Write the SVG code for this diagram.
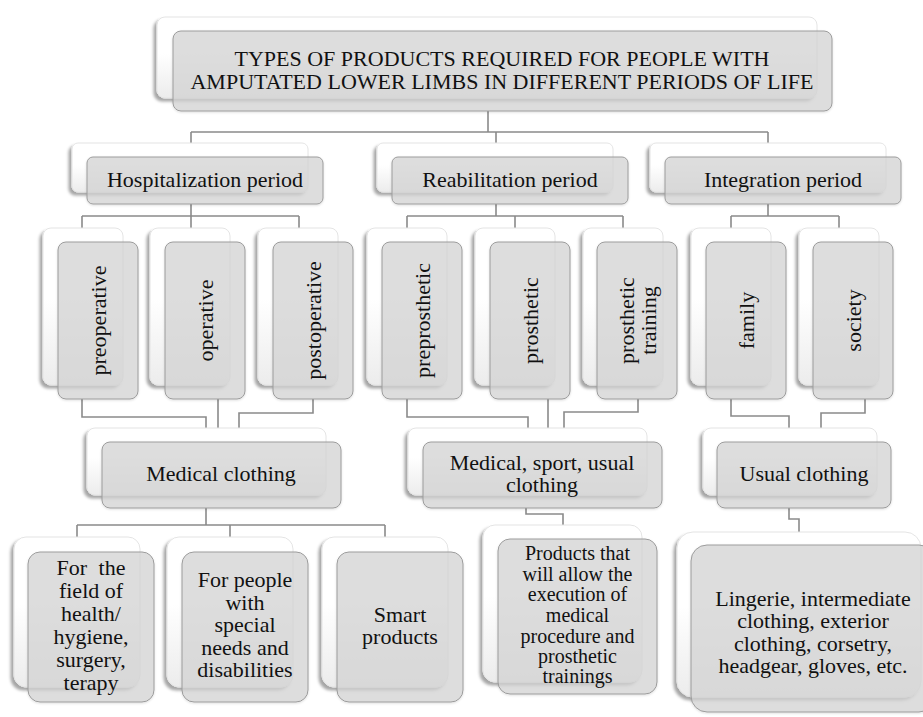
<svg xmlns="http://www.w3.org/2000/svg" width="923" height="717" viewBox="0 0 923 717">
<defs>
<linearGradient id="bg" x1="0" y1="0" x2="0" y2="1">
<stop offset="0" stop-color="#ffffff"/>
<stop offset="0.45" stop-color="#ffffff"/>
<stop offset="1" stop-color="#ececec"/>
</linearGradient>
<filter id="sh" x="-10%" y="-10%" width="120%" height="125%">
<feDropShadow dx="-3" dy="3" stdDeviation="1.6" flood-color="#000" flood-opacity="0.35"/>
</filter>
<filter id="sh2" x="-10%" y="-10%" width="120%" height="125%">
<feDropShadow dx="0" dy="1" stdDeviation="1" flood-color="#000" flood-opacity="0.15"/>
</filter>
</defs>
<style>
.back{fill:url(#bg);stroke:#e4e4e4;stroke-width:1;filter:url(#sh);}
.front{fill:#d6d6d6;fill-opacity:0.72;stroke:#9c9c9c;stroke-width:1;filter:url(#sh2);}
.t{font-family:"Liberation Serif","Times New Roman",serif;font-size:22px;fill:#111;text-anchor:middle;}
.s{font-size:20px;}
.conn path{fill:none;stroke:#8a8a8a;stroke-width:1.6;}
</style>
<rect width="923" height="717" fill="#ffffff"/>

<g class="conn" id="connectors">
<path d="M488 111V132M191 132H768M191 132V143M496 132V143M768 132V143"/>
<path d="M191 204V228M82 216H299M82 216V228M299 216V228"/>
<path d="M496 204V216M407 216H623M407 216V228M515 216V228M623 216V228"/>
<path d="M768 204V216M731 216H839M731 216V228M839 216V228"/>
<path d="M82 399V417H206V428"/>
<path d="M218 399V428"/>
<path d="M313 399V413H239V428"/>
<path d="M407 399V417H528V428"/>
<path d="M548 399V428"/>
<path d="M638 399V412H564V428"/>
<path d="M731 399V416H789V428"/>
<path d="M865 399V413H821V428"/>
<path d="M206 508V525M77 525H385M77 525V537M230 525V537M385 525V537"/>
<path d="M526 508V514H563V525"/>
<path d="M789 508V519H799V532"/>
</g>

<g id="title">
<rect class="back" x="157" y="17" width="660" height="81" rx="8"/>
<rect class="front" x="173" y="31" width="659" height="80" rx="8"/>
<text class="t" x="502" y="66">TYPES OF PRODUCTS REQUIRED FOR PEOPLE WITH</text>
<text class="t" x="502" y="89">AMPUTATED LOWER LIMBS IN DIFFERENT PERIODS OF LIFE</text>
</g>

<g id="hospitalization">
<rect class="back" x="72" y="143" width="236" height="49" rx="6"/>
<rect class="front" x="87" y="157" width="236" height="47" rx="6"/>
<text class="t" x="205" y="187">Hospitalization period</text>
</g>
<g id="reabilitation">
<rect class="back" x="377" y="143" width="236" height="49" rx="6"/>
<rect class="front" x="392" y="157" width="236" height="47" rx="6"/>
<text class="t" x="510" y="187">Reabilitation period</text>
</g>
<g id="integration">
<rect class="back" x="650" y="143" width="236" height="49" rx="6"/>
<rect class="front" x="665" y="157" width="236" height="47" rx="6"/>
<text class="t" x="783" y="187">Integration period</text>
</g>

<g id="preoperative">
<rect class="back" x="43" y="228" width="80" height="157" rx="8"/>
<rect class="front" x="58" y="242" width="80" height="157" rx="8"/>
<text class="t" transform="translate(98 320.5) rotate(-90)" x="0" y="8">preoperative</text>
</g>
<g id="operative">
<rect class="back" x="150" y="228" width="80" height="157" rx="8"/>
<rect class="front" x="165" y="242" width="80" height="157" rx="8"/>
<text class="t" transform="translate(205 320.5) rotate(-90)" x="0" y="8">operative</text>
</g>
<g id="postoperative">
<rect class="back" x="258" y="228" width="80" height="157" rx="8"/>
<rect class="front" x="273" y="242" width="80" height="157" rx="8"/>
<text class="t" transform="translate(313 320.5) rotate(-90)" x="0" y="8">postoperative</text>
</g>
<g id="preprosthetic">
<rect class="back" x="367" y="228" width="80" height="157" rx="8"/>
<rect class="front" x="382" y="242" width="80" height="157" rx="8"/>
<text class="t" transform="translate(422 320.5) rotate(-90)" x="0" y="8">preprosthetic</text>
</g>
<g id="prosthetic">
<rect class="back" x="475" y="228" width="80" height="157" rx="8"/>
<rect class="front" x="490" y="242" width="80" height="157" rx="8"/>
<text class="t" transform="translate(530 320.5) rotate(-90)" x="0" y="8">prosthetic</text>
</g>
<g id="prosthetic-training">
<rect class="back" x="583" y="228" width="80" height="157" rx="8"/>
<rect class="front" x="597" y="242" width="80" height="157" rx="8"/>
<text class="t" transform="translate(637 320.5) rotate(-90)" x="0" y="-3">prosthetic</text>
<text class="t" transform="translate(637 320.5) rotate(-90)" x="0" y="19">training</text>
</g>
<g id="family">
<rect class="back" x="691" y="228" width="80" height="157" rx="8"/>
<rect class="front" x="706" y="242" width="80" height="157" rx="8"/>
<text class="t" transform="translate(746 320.5) rotate(-90)" x="0" y="8">family</text>
</g>
<g id="society">
<rect class="back" x="799" y="228" width="80" height="157" rx="8"/>
<rect class="front" x="813" y="242" width="80" height="157" rx="8"/>
<text class="t" transform="translate(853 320.5) rotate(-90)" x="0" y="8">society</text>
</g>

<g id="medical-clothing">
<rect class="back" x="87" y="428" width="239" height="67" rx="8"/>
<rect class="front" x="102" y="442" width="239" height="66" rx="8"/>
<text class="t" x="221" y="481">Medical clothing</text>
</g>
<g id="medical-sport-usual">
<rect class="back" x="408" y="428" width="239" height="67" rx="8"/>
<rect class="front" x="423" y="442" width="239" height="66" rx="8"/>
<text class="t" x="542" y="470">Medical, sport, usual</text>
<text class="t" x="542" y="492">clothing</text>
</g>
<g id="usual-clothing">
<rect class="back" x="703" y="428" width="174" height="67" rx="8"/>
<rect class="front" x="717" y="442" width="174" height="66" rx="8"/>
<text class="t" x="804" y="481">Usual clothing</text>
</g>

<g id="health-hygiene">
<rect class="back" x="14" y="537" width="126" height="150" rx="12"/>
<rect class="front" x="28" y="552" width="126" height="150" rx="12"/>
<text class="t" x="91" y="575" word-spacing="6">For the</text>
<text class="t" x="91" y="598">field of</text>
<text class="t" x="91" y="621">health/</text>
<text class="t" x="91" y="644">hygiene,</text>
<text class="t" x="91" y="667">surgery,</text>
<text class="t" x="91" y="690">terapy</text>
</g>
<g id="special-needs">
<rect class="back" x="167" y="537" width="126" height="150" rx="12"/>
<rect class="front" x="182" y="552" width="126" height="150" rx="12"/>
<text class="t" x="245" y="587">For people</text>
<text class="t" x="245" y="609.5">with</text>
<text class="t" x="245" y="632">special</text>
<text class="t" x="245" y="655">needs and</text>
<text class="t" x="245" y="677">disabilities</text>
</g>
<g id="smart-products">
<rect class="back" x="322" y="537" width="126" height="150" rx="12"/>
<rect class="front" x="337" y="552" width="126" height="150" rx="12"/>
<text class="t" x="400" y="622">Smart</text>
<text class="t" x="400" y="644">products</text>
</g>
<g id="procedure-products">
<rect class="back" x="483" y="525" width="159" height="157" rx="12"/>
<rect class="front" x="498" y="539" width="159" height="155" rx="12"/>
<text class="t s" x="577.5" y="560">Products that</text>
<text class="t s" x="577.5" y="580.5">will allow the</text>
<text class="t s" x="577.5" y="601">execution of</text>
<text class="t s" x="577.5" y="622">medical</text>
<text class="t s" x="577.5" y="643">procedure and</text>
<text class="t s" x="577.5" y="663">prosthetic</text>
<text class="t s" x="577.5" y="683">trainings</text>
</g>
<g id="lingerie">
<rect class="back" x="677" y="532" width="244" height="165" rx="16"/>
<rect class="front" x="691" y="545" width="244" height="167" rx="16"/>
<text class="t" x="813" y="606">Lingerie, intermediate</text>
<text class="t" x="813" y="628">clothing, exterior</text>
<text class="t" x="813" y="651">clothing, corsetry,</text>
<text class="t" x="813" y="673">headgear, gloves, etc.</text>
</g>
</svg>
